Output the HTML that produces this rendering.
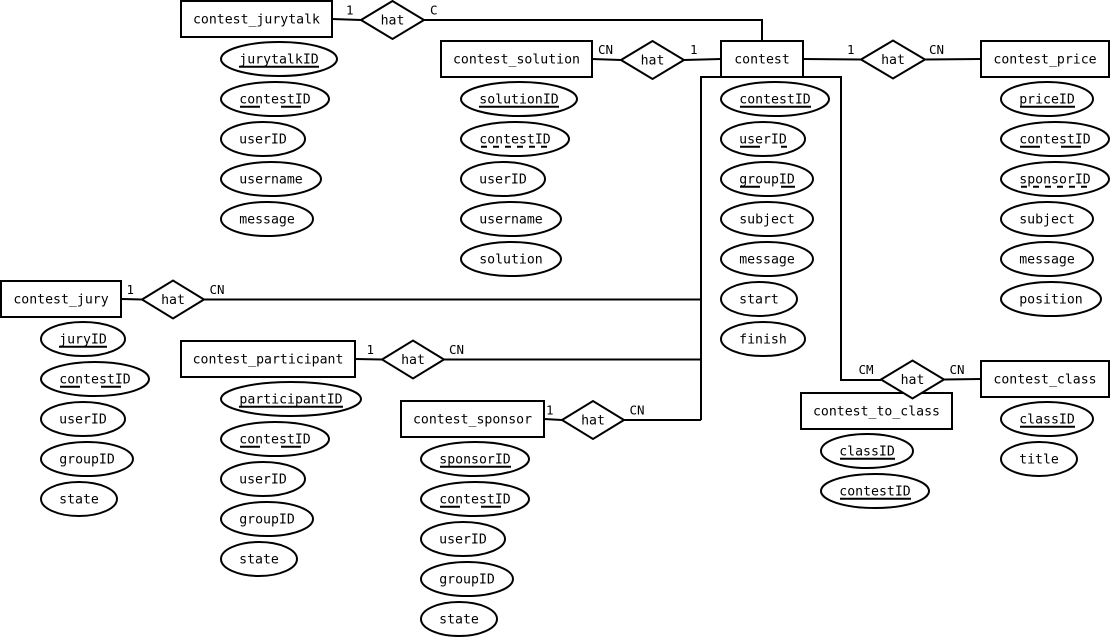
<!DOCTYPE html>
<html>
<head>
<meta charset="utf-8">
<style>
  html, body { margin:0; padding:0; background:#fff; }
  body { width:1111px; height:638px; overflow:hidden; }
  svg { display:block; }
  .t { font-family:"DejaVu Sans Mono","Liberation Mono",monospace; font-size:13.2px; fill:#000; }
  .l { font-family:"DejaVu Sans Mono","Liberation Mono",monospace; font-size:12.5px; fill:#000; }
  .s { fill:#fff; stroke:#000; stroke-width:2; }
  .ln { fill:none; stroke:#000; stroke-width:2; }
  .u { stroke:#000; stroke-width:2; }
  .ld { stroke:#000; stroke-width:2; stroke-dasharray:20 21; }
  .sd { stroke:#000; stroke-width:2; stroke-dasharray:6 6; }
</style>
</head>
<body>
<svg width="1111" height="638" viewBox="0 0 1111 638" xmlns="http://www.w3.org/2000/svg">
  <!-- connector lines -->
  <polyline class="ln" points="332,19 361,20"/>
  <polyline class="ln" points="424,20 762,20 762,41"/>
  <polyline class="ln" points="592,59 621,60"/>
  <polyline class="ln" points="684,60 721,59"/>
  <polyline class="ln" points="803,59 861,59.5"/>
  <polyline class="ln" points="925,59.5 981,59"/>
  <polyline class="ln" points="121,299 142,299.5"/>
  <polyline class="ln" points="204,299.5 701,299.5"/>
  <polyline class="ln" points="355,359 382,359.5"/>
  <polyline class="ln" points="444,359.5 701,359.5"/>
  <polyline class="ln" points="544,419 562,420"/>
  <polyline class="ln" points="624,420 701,420"/>
  <polyline class="ln" points="701,420 701,77 841,77 841,380 881,380"/>
  <polyline class="ln" points="944,379.5 981,379"/>

  <!-- entities -->
  <rect class="s" x="181" y="1" width="151" height="36"/>
  <text class="t" x="256.5" y="23.7" text-anchor="middle">contest_jurytalk</text>
  <rect class="s" x="441" y="41" width="151" height="36"/>
  <text class="t" x="516.5" y="63.7" text-anchor="middle">contest_solution</text>
  <rect class="s" x="721" y="41" width="82" height="36"/>
  <text class="t" x="762" y="63.7" text-anchor="middle">contest</text>
  <rect class="s" x="981" y="41" width="128" height="36"/>
  <text class="t" x="1045" y="63.7" text-anchor="middle">contest_price</text>
  <rect class="s" x="1" y="281" width="120" height="36"/>
  <text class="t" x="61" y="303.7" text-anchor="middle">contest_jury</text>
  <rect class="s" x="181" y="341" width="174" height="36"/>
  <text class="t" x="268" y="363.7" text-anchor="middle">contest_participant</text>
  <rect class="s" x="401" y="401" width="143" height="36"/>
  <text class="t" x="472.5" y="423.7" text-anchor="middle">contest_sponsor</text>
  <rect class="s" x="801" y="393" width="151" height="36"/>
  <text class="t" x="876.5" y="415.7" text-anchor="middle">contest_to_class</text>
  <rect class="s" x="981" y="361" width="128" height="36"/>
  <text class="t" x="1045" y="383.7" text-anchor="middle">contest_class</text>

  <!-- relationships -->
  <polygon class="s" points="361,20 392.5,1 424,20 392.5,39"/>
  <text class="t" x="392.5" y="24.7" text-anchor="middle">hat</text>
  <polygon class="s" points="621,60 652.5,41 684,60 652.5,79"/>
  <text class="t" x="652.5" y="64.7" text-anchor="middle">hat</text>
  <polygon class="s" points="861,59.5 893,40.5 925,59.5 893,78.5"/>
  <text class="t" x="893" y="64.2" text-anchor="middle">hat</text>
  <polygon class="s" points="142,299.5 173,280.5 204,299.5 173,318.5"/>
  <text class="t" x="173" y="304.2" text-anchor="middle">hat</text>
  <polygon class="s" points="382,359.5 413,340.5 444,359.5 413,378.5"/>
  <text class="t" x="413" y="364.2" text-anchor="middle">hat</text>
  <polygon class="s" points="562,420 593,401 624,420 593,439"/>
  <text class="t" x="593" y="424.7" text-anchor="middle">hat</text>
  <polygon class="s" points="881,379.5 912.5,360.5 944,379.5 912.5,398.5"/>
  <text class="t" x="912.5" y="384.2" text-anchor="middle">hat</text>

  <!-- cardinality labels -->
  <text class="l" x="346" y="14.5">1</text>
  <text class="l" x="430" y="14.5">C</text>
  <text class="l" x="598" y="54">CN</text>
  <text class="l" x="690" y="54">1</text>
  <text class="l" x="847" y="54">1</text>
  <text class="l" x="929" y="54">CN</text>
  <text class="l" x="126.5" y="294">1</text>
  <text class="l" x="209.5" y="294">CN</text>
  <text class="l" x="366.5" y="354">1</text>
  <text class="l" x="449" y="354">CN</text>
  <text class="l" x="546" y="414.5">1</text>
  <text class="l" x="629.5" y="414.5">CN</text>
  <text class="l" x="858.5" y="374">CM</text>
  <text class="l" x="949.5" y="374">CN</text>

  <!-- contest_jurytalk attributes -->
  <ellipse class="s" cx="279" cy="59" rx="58" ry="17"/>
  <text class="t" x="279" y="63.7" text-anchor="middle">jurytalkID</text>
  <line class="u" x1="239" y1="66.7" x2="319" y2="66.7"/>
  <ellipse class="s" cx="275" cy="99" rx="54" ry="17"/>
  <text class="t" x="275" y="103.7" text-anchor="middle">contestID</text>
  <line class="ld" x1="240" y1="106.7" x2="311" y2="106.7"/>
  <ellipse class="s" cx="263" cy="139" rx="42" ry="17"/>
  <text class="t" x="263" y="143.7" text-anchor="middle">userID</text>
  <ellipse class="s" cx="271" cy="179" rx="50" ry="17"/>
  <text class="t" x="271" y="183.7" text-anchor="middle">username</text>
  <ellipse class="s" cx="267" cy="219" rx="46" ry="17"/>
  <text class="t" x="267" y="223.7" text-anchor="middle">message</text>

  <!-- contest_solution attributes -->
  <ellipse class="s" cx="519" cy="99" rx="58" ry="17"/>
  <text class="t" x="519" y="103.7" text-anchor="middle">solutionID</text>
  <line class="u" x1="479" y1="106.7" x2="559" y2="106.7"/>
  <ellipse class="s" cx="515" cy="139" rx="54" ry="17"/>
  <text class="t" x="515" y="143.7" text-anchor="middle">contestID</text>
  <line class="sd" x1="481" y1="146.7" x2="551" y2="146.7"/>
  <ellipse class="s" cx="503" cy="179" rx="42" ry="17"/>
  <text class="t" x="503" y="183.7" text-anchor="middle">userID</text>
  <ellipse class="s" cx="511" cy="219" rx="50" ry="17"/>
  <text class="t" x="511" y="223.7" text-anchor="middle">username</text>
  <ellipse class="s" cx="511" cy="259" rx="50" ry="17"/>
  <text class="t" x="511" y="263.7" text-anchor="middle">solution</text>

  <!-- contest attributes -->
  <ellipse class="s" cx="775" cy="99" rx="54" ry="17"/>
  <text class="t" x="775" y="103.7" text-anchor="middle">contestID</text>
  <line class="u" x1="740" y1="106.7" x2="811" y2="106.7"/>
  <ellipse class="s" cx="763" cy="139" rx="42" ry="17"/>
  <text class="t" x="763" y="143.7" text-anchor="middle">userID</text>
  <line class="ld" x1="740" y1="146.7" x2="787" y2="146.7"/>
  <ellipse class="s" cx="767" cy="179" rx="46" ry="17"/>
  <text class="t" x="767" y="183.7" text-anchor="middle">groupID</text>
  <line class="ld" x1="740" y1="186.7" x2="795" y2="186.7"/>
  <ellipse class="s" cx="767" cy="219" rx="46" ry="17"/>
  <text class="t" x="767" y="223.7" text-anchor="middle">subject</text>
  <ellipse class="s" cx="767" cy="259" rx="46" ry="17"/>
  <text class="t" x="767" y="263.7" text-anchor="middle">message</text>
  <ellipse class="s" cx="759" cy="299" rx="38" ry="17"/>
  <text class="t" x="759" y="303.7" text-anchor="middle">start</text>
  <ellipse class="s" cx="763" cy="339" rx="42" ry="17"/>
  <text class="t" x="763" y="343.7" text-anchor="middle">finish</text>

  <!-- contest_price attributes -->
  <ellipse class="s" cx="1047" cy="99" rx="46" ry="17"/>
  <text class="t" x="1047" y="103.7" text-anchor="middle">priceID</text>
  <line class="u" x1="1020" y1="106.7" x2="1075" y2="106.7"/>
  <ellipse class="s" cx="1055" cy="139" rx="54" ry="17"/>
  <text class="t" x="1055" y="143.7" text-anchor="middle">contestID</text>
  <line class="ld" x1="1020" y1="146.7" x2="1091" y2="146.7"/>
  <ellipse class="s" cx="1055" cy="179" rx="54" ry="17"/>
  <text class="t" x="1055" y="183.7" text-anchor="middle">sponsorID</text>
  <line class="sd" x1="1021" y1="186.7" x2="1091" y2="186.7"/>
  <ellipse class="s" cx="1047" cy="219" rx="46" ry="17"/>
  <text class="t" x="1047" y="223.7" text-anchor="middle">subject</text>
  <ellipse class="s" cx="1047" cy="259" rx="46" ry="17"/>
  <text class="t" x="1047" y="263.7" text-anchor="middle">message</text>
  <ellipse class="s" cx="1051" cy="299" rx="50" ry="17"/>
  <text class="t" x="1051" y="303.7" text-anchor="middle">position</text>

  <!-- contest_jury attributes -->
  <ellipse class="s" cx="83" cy="339" rx="42" ry="17"/>
  <text class="t" x="83" y="343.7" text-anchor="middle">juryID</text>
  <line class="u" x1="59" y1="346.7" x2="107" y2="346.7"/>
  <ellipse class="s" cx="95" cy="379" rx="54" ry="17"/>
  <text class="t" x="95" y="383.7" text-anchor="middle">contestID</text>
  <line class="ld" x1="60" y1="386.7" x2="131" y2="386.7"/>
  <ellipse class="s" cx="83" cy="419" rx="42" ry="17"/>
  <text class="t" x="83" y="423.7" text-anchor="middle">userID</text>
  <ellipse class="s" cx="87" cy="459" rx="46" ry="17"/>
  <text class="t" x="87" y="463.7" text-anchor="middle">groupID</text>
  <ellipse class="s" cx="79" cy="499" rx="38" ry="17"/>
  <text class="t" x="79" y="503.7" text-anchor="middle">state</text>

  <!-- contest_participant attributes -->
  <ellipse class="s" cx="291" cy="399" rx="70" ry="17"/>
  <text class="t" x="291" y="403.7" text-anchor="middle">participantID</text>
  <line class="u" x1="239" y1="406.7" x2="343" y2="406.7"/>
  <ellipse class="s" cx="275" cy="439" rx="54" ry="17"/>
  <text class="t" x="275" y="443.7" text-anchor="middle">contestID</text>
  <line class="ld" x1="240" y1="446.7" x2="311" y2="446.7"/>
  <ellipse class="s" cx="263" cy="479" rx="42" ry="17"/>
  <text class="t" x="263" y="483.7" text-anchor="middle">userID</text>
  <ellipse class="s" cx="267" cy="519" rx="46" ry="17"/>
  <text class="t" x="267" y="523.7" text-anchor="middle">groupID</text>
  <ellipse class="s" cx="259" cy="559" rx="38" ry="17"/>
  <text class="t" x="259" y="563.7" text-anchor="middle">state</text>

  <!-- contest_sponsor attributes -->
  <ellipse class="s" cx="475" cy="459" rx="54" ry="17"/>
  <text class="t" x="475" y="463.7" text-anchor="middle">sponsorID</text>
  <line class="u" x1="440" y1="466.7" x2="511" y2="466.7"/>
  <ellipse class="s" cx="475" cy="499" rx="54" ry="17"/>
  <text class="t" x="475" y="503.7" text-anchor="middle">contestID</text>
  <line class="ld" x1="440" y1="506.7" x2="511" y2="506.7"/>
  <ellipse class="s" cx="463" cy="539" rx="42" ry="17"/>
  <text class="t" x="463" y="543.7" text-anchor="middle">userID</text>
  <ellipse class="s" cx="467" cy="579" rx="46" ry="17"/>
  <text class="t" x="467" y="583.7" text-anchor="middle">groupID</text>
  <ellipse class="s" cx="459" cy="619" rx="38" ry="17"/>
  <text class="t" x="459" y="623.7" text-anchor="middle">state</text>

  <!-- contest_to_class attributes -->
  <ellipse class="s" cx="867" cy="451" rx="46" ry="17"/>
  <text class="t" x="867" y="455.7" text-anchor="middle">classID</text>
  <line class="u" x1="840" y1="458.7" x2="895" y2="458.7"/>
  <ellipse class="s" cx="875" cy="491" rx="54" ry="17"/>
  <text class="t" x="875" y="495.7" text-anchor="middle">contestID</text>
  <line class="u" x1="840" y1="498.7" x2="911" y2="498.7"/>

  <!-- contest_class attributes -->
  <ellipse class="s" cx="1047" cy="419" rx="46" ry="17"/>
  <text class="t" x="1047" y="423.7" text-anchor="middle">classID</text>
  <line class="u" x1="1020" y1="426.7" x2="1075" y2="426.7"/>
  <ellipse class="s" cx="1039" cy="459" rx="38" ry="17"/>
  <text class="t" x="1039" y="463.7" text-anchor="middle">title</text>
</svg>
</body>
</html>
